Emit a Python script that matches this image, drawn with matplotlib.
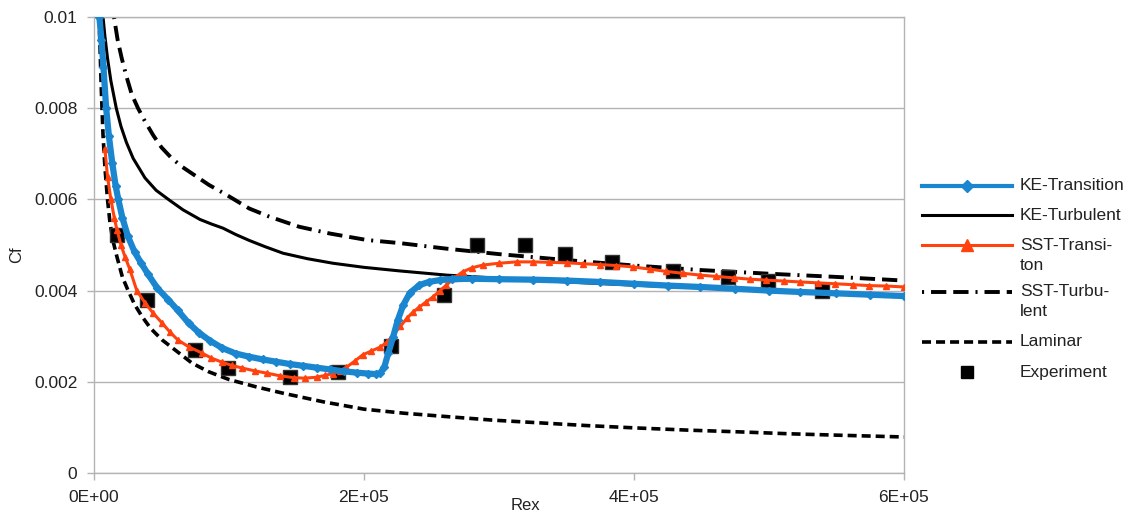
import matplotlib
matplotlib.use("Agg")
import matplotlib.pyplot as plt
from matplotlib.lines import Line2D

plt.rcParams["font.family"] = ["Liberation Sans", "DejaVu Sans"]
plt.rcParams["lines.scale_dashes"] = False

# skin friction along the flat plate
ke_trans_rex = [4000, 5500, 7000, 9000, 11000, 13500, 16000, 18000, 21000, 25000,
                30000, 35000, 40000, 47000, 55000, 62000, 70000, 78000, 86000, 95000,
                105000, 115000, 125000, 135000, 145000, 155000, 165000, 175000, 185000,
                195000, 203000, 209000, 212000, 215000, 218000, 221500, 225000, 229000,
                234000, 241000, 248000, 256000, 265000, 280000, 300000, 325000, 350000,
                375000, 400000, 425000, 449000, 475000, 500000, 523000, 550000, 575000,
                600000]
ke_trans_cf = [0.0100, 0.0095, 0.0089, 0.0080, 0.0074, 0.0068, 0.0063, 0.0060, 0.0056,
               0.0052, 0.00485, 0.0046, 0.00436, 0.00405, 0.0038, 0.00357, 0.00329,
               0.00307, 0.0029, 0.00274, 0.00262, 0.00255, 0.00249, 0.00244, 0.00239,
               0.00235, 0.00231, 0.00227, 0.00223, 0.0022, 0.00218, 0.00217, 0.00219,
               0.00232, 0.00263, 0.00298, 0.00335, 0.00368, 0.00395, 0.00412, 0.00419,
               0.00423, 0.00425, 0.00426, 0.00425, 0.00424, 0.00422, 0.00419, 0.00415,
               0.00411, 0.00408, 0.00404, 0.004, 0.00397, 0.00394, 0.00391, 0.00388]

ke_turb_rex = [6700, 8000, 10000, 12500, 16500, 20000, 24000, 29000, 37800, 46000,
               56000, 66000, 78500, 87000, 95500, 105000, 115000, 127000, 140000,
               158000, 177000, 200000, 227000, 261000, 300000, 350000, 400000, 450000,
               500000, 550000, 600000]
ke_turb_cf = [0.0100, 0.0096, 0.0091, 0.0086, 0.0080, 0.0076, 0.00725, 0.0069, 0.00647,
              0.0062, 0.00598, 0.00577, 0.00556, 0.00546, 0.00537, 0.00523, 0.0051,
              0.00496, 0.00482, 0.0047, 0.0046, 0.00451, 0.00443, 0.00434, 0.00427,
              0.00419, 0.00412, 0.00406, 0.004, 0.00394, 0.00388]

sst_trans_rex = [8100, 10000, 12500, 15000, 17000, 20000, 23000, 26500, 31700, 37800,
                 44000, 50400, 56000, 62000, 70000, 80000, 87000, 94800, 102000, 110000,
                 119000, 128000, 138000, 148000, 156000, 165000, 171000, 177000, 182000,
                 187000, 193000, 199000, 205000, 212000, 217000, 221500, 227000, 232000,
                 236000, 241000, 246000, 251000, 256000, 261000, 267000, 273000, 280000,
                 288000, 300000, 313000, 325000, 337000, 350000, 362000, 375000, 387000,
                 399000, 412000, 424000, 436000, 449000, 461000, 474000, 486000, 498000,
                 511000, 523000, 536000, 549000, 562000, 574000, 587000, 600000]
sst_trans_cf = [0.0071, 0.0065, 0.006, 0.0056, 0.00533, 0.005, 0.00474, 0.00447, 0.004,
                0.00373, 0.0035, 0.00329, 0.0031, 0.00292, 0.00277, 0.00263, 0.00252,
                0.00243, 0.00236, 0.0023, 0.00224, 0.00219, 0.00213, 0.00209, 0.00208,
                0.0021, 0.00214, 0.00218, 0.00224, 0.00232, 0.00245, 0.00259, 0.00267,
                0.00276, 0.00287, 0.00302, 0.00322, 0.0034, 0.00352, 0.00364, 0.00375,
                0.00386, 0.00399, 0.00412, 0.00428, 0.00441, 0.0045, 0.00456, 0.0046,
                0.00463, 0.00463, 0.00462, 0.00461, 0.00459, 0.00457, 0.00455, 0.00452,
                0.00447, 0.00442, 0.00438, 0.00434, 0.00431, 0.00428, 0.00425, 0.00423,
                0.00421, 0.00419, 0.00417, 0.00415, 0.00413, 0.00411, 0.0041, 0.00408]

sst_turb_rex = [14800, 17500, 20500, 24000, 28000, 32600, 38000, 44000, 50000, 57000,
                65000, 75000, 85000, 97000, 115000, 130000, 152000, 175000, 202000,
                227000, 261000, 300000, 350000, 400000, 450000, 500000, 550000, 600000]
sst_turb_cf = [0.0100, 0.0095, 0.0091, 0.0087, 0.0083, 0.008, 0.0077, 0.0074, 0.00714,
               0.00692, 0.00672, 0.00652, 0.00632, 0.00612, 0.0058, 0.00562, 0.0054,
               0.00525, 0.00511, 0.00504, 0.00492, 0.0048, 0.00467, 0.00455, 0.00445,
               0.00437, 0.0043, 0.00422]

laminar_rex = [3700, 4500, 5300, 6700, 8100, 10000, 11800, 14000, 17000, 21000, 25000,
               30000, 35600, 42000, 50400, 60000, 72600, 85000, 100000, 120000, 140000,
               170000, 200000, 230000, 260000, 295000, 330000, 365000, 400000, 440000,
               480000, 515000, 550000, 600000]
laminar_cf = [0.0100, 0.0093, 0.0085, 0.0074, 0.0067, 0.006, 0.0055, 0.0051, 0.00474,
              0.0043, 0.00402, 0.0037, 0.00343, 0.00317, 0.00292, 0.0027, 0.00241,
              0.00222, 0.00205, 0.00189, 0.00175, 0.00156, 0.0014, 0.00131, 0.00124,
              0.00116, 0.0011, 0.00104, 0.00099, 0.00094, 0.0009, 0.00086, 0.00083,
              0.00079]

exp_rex = [17000, 39300, 74800, 99300, 145000, 181000, 220000, 259000, 284000, 319000,
           349000, 384000, 429000, 470000, 499000, 539000]
exp_cf = [0.00522, 0.0038, 0.0027, 0.0023, 0.0021, 0.00221, 0.00278, 0.0039, 0.0050,
          0.0050, 0.0048, 0.00462, 0.00442, 0.0043, 0.0042, 0.00399]

x_ticks = [0, 200000, 400000, 600000]
x_labels = ["0E+00", "2E+05", "4E+05", "6E+05"]
y_ticks = [0, 0.002, 0.004, 0.006, 0.008, 0.01]
y_labels = ["0", "0.002", "0.004", "0.006", "0.008", "0.01"]

BLUE = "#1a86d0"
RED = "#ff420e"
GRID = "#b3b3b3"
TEXT = "#222222"
SST_DASH = (0, (1.5, 5, 11, 5, 11, 5))
LAM_DASH = (0, (6.5, 3.6))

W, H = 1143, 516
fig = plt.figure(figsize=(W / 100, H / 100), dpi=100)
ax = fig.add_axes([94 / W, 1 - 473 / H, 810 / W, 456 / H])

ax.plot(laminar_rex, laminar_cf, color="black", lw=2.6, linestyle=LAM_DASH, zorder=2)
ax.plot(sst_turb_rex, sst_turb_cf, color="black", lw=2.8, linestyle=SST_DASH, zorder=2)
ax.plot(ke_turb_rex, ke_turb_cf, color="black", lw=2.2, zorder=2)
ax.plot(exp_rex, exp_cf, linestyle="none", marker="s", ms=10, color="black",
        markeredgecolor="#333333", zorder=3)
ax.plot(sst_trans_rex, sst_trans_cf, color=RED, lw=2.2, marker="^", ms=5, zorder=4)
ax.plot(ke_trans_rex, ke_trans_cf, color=BLUE, lw=4.5, marker="D", ms=4.5, zorder=5)

ax.set_xlim(0, 600000)
ax.set_ylim(0, 0.01)
ax.set_xticks(x_ticks)
ax.set_xticklabels(x_labels)
ax.set_yticks(y_ticks)
ax.set_yticklabels(y_labels)
ax.tick_params(labelsize=12.5, colors=GRID, labelcolor=TEXT, length=5, width=1, pad=7)
ax.grid(axis="y", color=GRID, lw=1)
for side in ["left", "right", "bottom", "top"]:
    ax.spines[side].set_color(GRID)
    ax.spines[side].set_linewidth(1)
ax.set_axisbelow(True)


def px(x, y):
    return x / W, 1 - y / H


fig.text(*px(525, 505), "Rex", fontsize=12, color=TEXT, ha="center", va="center")
fig.text(*px(17, 255), "Cf", fontsize=12, color=TEXT, ha="center", va="center",
         rotation=90)

# legend drawn by hand so the sample sits on the first line of each label
entries = [
    (186, dict(color=BLUE, lw=3, marker="D", ms=6), ["KE-Transition"]),
    (215, dict(color="black", lw=2.2), ["KE-Turbulent"]),
    (245, dict(color=RED, lw=2.2, marker="^", ms=8), ["SST-Transi-", "ton"]),
    (292, dict(color="black", lw=2.8, linestyle=SST_DASH), ["SST-Turbu-", "lent"]),
    (342, dict(color="black", lw=2.6, linestyle=LAM_DASH), ["Laminar"]),
    (372, dict(color="black", linestyle="none", marker="s", ms=9), ["Experiment"]),
]
for y, style, lines in entries:
    x0, yy = px(922, y)
    x1, _ = px(1012, y)
    xm = (x0 + x1) / 2
    if "marker" in style:
        fig.add_artist(Line2D([x0, xm, x1], [yy, yy, yy], transform=fig.transFigure,
                              markevery=[1], **style))
    else:
        fig.add_artist(Line2D([x0, x1], [yy, yy], transform=fig.transFigure, **style))
    for i, text in enumerate(lines):
        tx, ty = px(1020, y + 20 * i)
        fig.text(tx, ty, text, fontsize=12.5, color=TEXT, va="center", ha="left")

fig.savefig("out.png", dpi=100)
